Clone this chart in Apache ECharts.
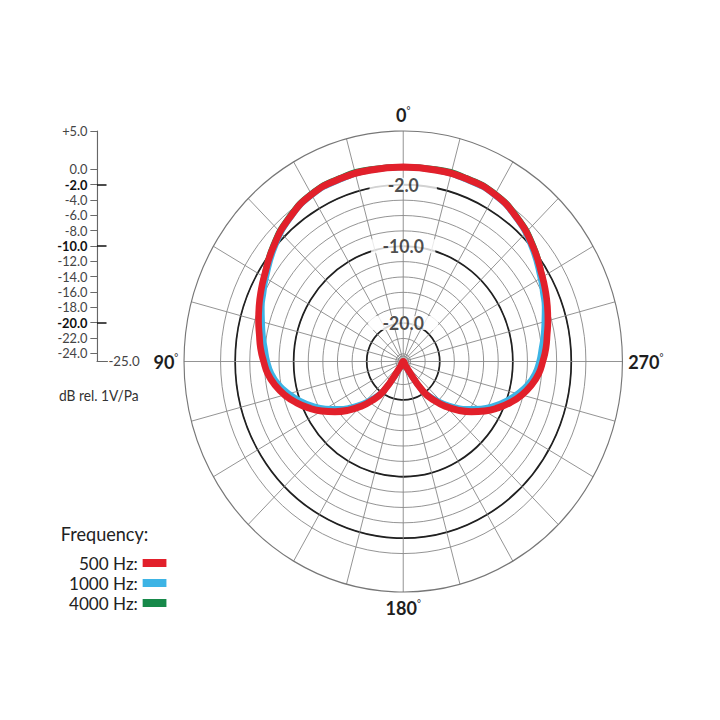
<!DOCTYPE html>
<html>
<head>
<meta charset="utf-8">
<title>Polar pattern</title>
<script src="https://cdn.jsdelivr.net/npm/echarts@6/dist/echarts.min.js"></script>
<style>
  html, body { margin: 0; padding: 0; overflow: hidden; background: #fff; }
  /* the reference plot is a little narrower than it is tall, so squeeze the whole chart sideways */
  #chart { width: 757px; height: 720px; transform: scaleX(0.951); transform-origin: 0 0; }
</style>
</head>
<body>
<div id="chart"></div>
<script>
// angle in degrees, 0 at the top, 90 on the left (finer steps at the sides and round the rear lobes)
const angles = [0, 10, 20, 30, 40, 50, 60, 65, 70, 75, 80, 85, 90, 95, 100, 105, 110, 115, 120, 125, 130, 135, 140, 145, 150, 155, 160, 170, 180,
  190, 200, 205, 210, 215, 220, 225, 230, 235, 240, 245, 250, 255, 260, 265, 270, 275, 280, 285, 290, 295, 300, 310, 320, 330, 340, 350, 360];

// response in dB rel. 1V/Pa
const db500 = [0.3, 0.3, 0.3, 0.1, -0.7, -1.8, -3.0, -3.5, -4.0, -4.5, -5.0, -5.4, -5.9, -6.4, -7.2, -8.2, -9.4, -10.7, -12.1, -13.6, -15.1, -16.7, -18.4, -20.3, -24.2, -25, -25, -25, -25,
  -25, -25, -25, -24.2, -20.3, -18.4, -16.7, -15.1, -13.6, -12.1, -10.7, -9.4, -8.2, -7.2, -6.4, -5.9, -5.4, -5.0, -4.5, -4.0, -3.5, -3.0, -1.8, -0.7, 0.1, 0.3, 0.3, 0.3];
const db1000 = [0.3, 0.3, 0.2, 0.0, -0.8, -2.0, -3.3, -3.9, -4.4, -5.0, -5.5, -6.0, -6.4, -6.9, -7.7, -8.8, -10.0, -11.3, -12.7, -14.2, -15.7, -17.2, -18.8, -20.4, -23.2, -24.8, -25, -25, -25,
  -25, -25, -24.8, -23.2, -20.4, -18.8, -17.2, -15.7, -14.2, -12.7, -11.3, -10.0, -8.8, -7.7, -6.9, -6.4, -6.0, -5.5, -5.0, -4.4, -3.9, -3.3, -2.0, -0.8, 0.0, 0.2, 0.3, 0.3];
const db4000 = [0.3, 0.4, 0.4, 0.2, -0.6, -1.7, -3.0, -3.6, -4.1, -4.6, -5.1, -5.6, -6.0, -6.5, -7.3, -8.3, -9.5, -10.8, -12.2, -13.7, -15.2, -16.8, -18.5, -20.4, -24.3, -25, -25, -25, -25,
  -25, -25, -25, -24.3, -20.4, -18.5, -16.8, -15.2, -13.7, -12.2, -10.8, -9.5, -8.3, -7.3, -6.5, -6.0, -5.6, -5.1, -4.6, -4.1, -3.6, -3.0, -1.7, -0.6, 0.2, 0.4, 0.4, 0.3];

const ringLevels = [-24, -22, -20, -18, -16, -14, -12, -10, -8, -6, -4, -2, 0];
const boldRings = [-20, -10, -2];
const scaleTicks = [5, 0, -2, -4, -6, -8, -10, -12, -14, -16, -18, -20, -22, -24];
const angleLabels = [0, 90, 180, 270];

const FONT = 'Lato';
const colors = {
  r500: '#e2202b',
  r1000: '#3db4e5',
  r4000: '#17894a',
  grid: '#858585',
  dark: '#202020',
  text: '#1e1e1e'
};

const dbMin = -25, dbMax = 5;

// one split circle per dB step, only the wanted ones get a colour
const thinRingColors = [];
const darkRingColors = [];
for (let v = dbMin; v <= dbMax; v++) {
  thinRingColors.push(ringLevels.includes(v) ? colors.grid : 'transparent');
  darkRingColors.push(boldRings.includes(v) ? colors.dark : 'transparent');
}

function fmtDb(v) {
  const s = v > 0 ? '+' + v.toFixed(1) : v.toFixed(1);
  return boldRings.includes(v) ? '{b|' + s + '}' : '{n|' + s + '}';
}

const chart = echarts.init(document.getElementById('chart'), null, { renderer: 'svg' });

const polarCenter = [424, 361.5];
const polarRadius = 230.5;

const option = {
  animation: false,
  backgroundColor: '#fff',
  textStyle: { fontFamily: FONT },
  title: [
    {
      text: 'dB rel. 1V/Pa',
      left: 57, top: 383,
      textStyle: { fontFamily: FONT, fontSize: 14.5, fontWeight: 'normal', color: '#333' }
    },
    {
      text: 'Frequency:',
      left: 59, top: 519,
      textStyle: { fontFamily: FONT, fontSize: 19, fontWeight: 'normal', color: '#222' }
    }
  ],
  legend: {
    orient: 'vertical',
    left: 56,
    top: 549,
    align: 'right',
    icon: 'rect',
    itemWidth: 25,
    itemHeight: 8,
    itemGap: 2,
    selectedMode: false,
    formatter: name => name + ':',
    itemStyle: { borderWidth: 0 },
    textStyle: { fontFamily: FONT, fontSize: 18, lineHeight: 17, color: '#222', width: 84, align: 'right' },
    data: ['500 Hz', '1000 Hz', '4000 Hz']
  },
  polar: [
    { center: polarCenter, radius: polarRadius },
    { center: polarCenter, radius: polarRadius }
  ],
  angleAxis: [
    {
      polarIndex: 0,
      type: 'value',
      min: 0, max: 360, interval: 15,
      startAngle: 90,
      clockwise: false,
      axisLine: { show: true, lineStyle: { color: '#777', width: 1.2 } },
      axisTick: { show: false },
      splitLine: { show: true, lineStyle: { color: colors.grid, width: 0.9 } },
      axisLabel: {
        margin: 6,
        formatter: v => angleLabels.includes(v) ? '{n|' + v + '}{d|°}' : '',
        rich: {
          n: { fontFamily: FONT, fontSize: 19, fontWeight: 'bold', color: colors.text, lineHeight: 20 },
          d: { fontFamily: FONT, fontSize: 10, color: colors.text, verticalAlign: 'top', lineHeight: 10 }
        }
      }
    },
    {
      polarIndex: 1,
      type: 'value',
      min: 0, max: 360,
      startAngle: 90,
      clockwise: false,
      show: false
    }
  ],
  radiusAxis: [
    {
      polarIndex: 0,
      type: 'value',
      min: dbMin, max: dbMax, interval: 1,
      axisLine: { show: false },
      axisTick: { show: false },
      axisLabel: { show: false },
      splitLine: { show: true, lineStyle: { color: thinRingColors, width: 0.9 } }
    },
    {
      polarIndex: 1,
      type: 'value',
      min: dbMin, max: dbMax, interval: 1,
      axisLine: { show: false },
      axisTick: { show: false },
      axisLabel: { show: false },
      splitLine: { show: true, lineStyle: { color: darkRingColors, width: 1.8 } }
    }
  ],
  // the dB scale bar on the left
  grid: { left: 102, top: 131, width: 11, height: 230 },
  xAxis: {
    type: 'value',
    min: 0, max: 1,
    axisLine: { show: true, onZero: false, lineStyle: { color: '#666', width: 1.2 } },
    axisTick: { show: false },
    axisLabel: { show: false },
    splitLine: { show: false },
    name: '-25.0',
    nameLocation: 'end',
    nameGap: 1,
    nameTextStyle: { fontFamily: FONT, fontSize: 14, color: '#444' }
  },
  yAxis: [
    {
      type: 'value',
      min: dbMin, max: dbMax,
      position: 'left',
      axisLine: { show: true, onZero: false, lineStyle: { color: '#666', width: 1.2 } },
      axisTick: { show: true, length: 7, customValues: scaleTicks, lineStyle: { color: '#666' } },
      axisLabel: {
        margin: 10,
        customValues: scaleTicks,
        formatter: fmtDb,
        rich: {
          n: { fontFamily: FONT, fontSize: 13.5, lineHeight: 12, color: '#444' },
          b: { fontFamily: FONT, fontSize: 13.5, lineHeight: 12, fontWeight: 'bold', color: '#111' }
        }
      },
      splitLine: { show: false }
    },
    {
      type: 'value',
      min: dbMin, max: dbMax,
      position: 'left',
      axisLine: { show: false, onZero: false },
      axisTick: { show: true, inside: true, length: 10, customValues: boldRings, lineStyle: { color: '#111', width: 1.5 } },
      axisLabel: { show: false },
      splitLine: { show: false }
    }
  ],
  series: [
    {
      name: 'centre',
      type: 'scatter',
      coordinateSystem: 'polar',
      polarIndex: 0,
      symbolSize: 11,
      silent: true,
      itemStyle: { color: '#b8b8b8', borderColor: '#777', borderWidth: 1 },
      data: [[dbMin, 0]],
      z: 2
    },
    {
      name: 'ring labels',
      type: 'scatter',
      coordinateSystem: 'polar',
      polarIndex: 0,
      symbolSize: 1,
      silent: true,
      itemStyle: { color: 'transparent' },
      label: {
        show: true,
        position: 'inside',
        formatter: p => p.value[0].toFixed(1),
        fontFamily: FONT, fontSize: 18.5, fontWeight: 'bold', color: colors.text,
        backgroundColor: '#fff',
        lineHeight: 14
      },
      data: [
        { value: [-2, 0], label: { padding: [0, 19] } },
        { value: [-10, 0], label: { padding: [0, 12] } },
        { value: [-20, 0], label: { padding: [0, 15] } }
      ],
      z: 3
    },
    {
      name: '4000 Hz',
      type: 'line',
      coordinateSystem: 'polar',
      polarIndex: 0,
      smooth: 0.5,
      showSymbol: false,
      silent: true,
      lineStyle: { color: colors.r4000, width: 6 },
      itemStyle: { color: colors.r4000 },
      data: angles.map((a, i) => [db4000[i], a]),
      z: 4
    },
    {
      name: '1000 Hz',
      type: 'line',
      coordinateSystem: 'polar',
      polarIndex: 0,
      smooth: 0.5,
      showSymbol: false,
      silent: true,
      lineStyle: { color: colors.r1000, width: 6 },
      itemStyle: { color: colors.r1000 },
      data: angles.map((a, i) => [db1000[i], a]),
      z: 5
    },
    {
      name: '500 Hz',
      type: 'line',
      coordinateSystem: 'polar',
      polarIndex: 0,
      smooth: 0.5,
      showSymbol: false,
      silent: true,
      lineStyle: { color: colors.r500, width: 7 },
      itemStyle: { color: colors.r500 },
      data: angles.map((a, i) => [db500[i], a]),
      z: 6
    }
  ]
};

chart.setOption(option);
window.addEventListener('resize', () => chart.resize());
</script>
</body>
</html>
